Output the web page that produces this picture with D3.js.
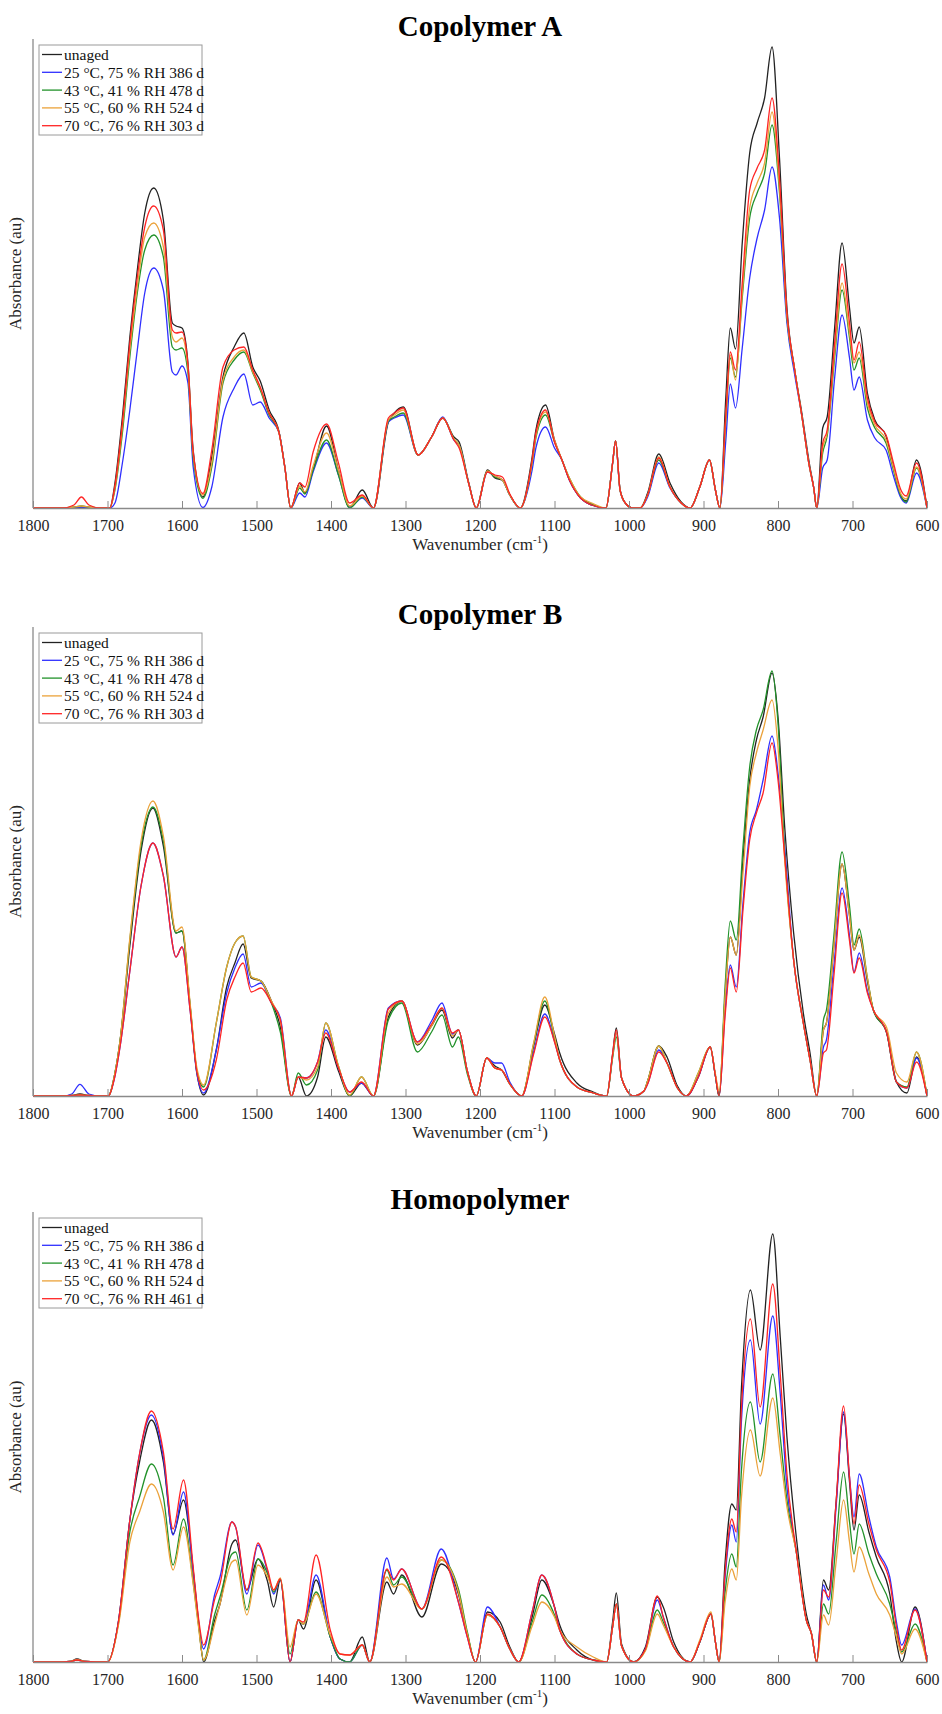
<!DOCTYPE html>
<html>
<head>
<meta charset="utf-8">
<script src="https://cdn.jsdelivr.net/npm/d3@7"></script>
<style>
  body { margin: 0; background: #fff; }
  svg { display: block; }
  svg text { font-family: "Liberation Serif", "Times New Roman", Times, serif !important; }
</style>
</head>
<body>
<svg id="fig" width="942" height="1714"></svg>
<script>
// ---- tick labels and legend entries ----
const xTicks = [1800, 1700, 1600, 1500, 1400, 1300, 1200, 1100, 1000, 900, 800, 700, 600];
const panelTitles = ["Copolymer A", "Copolymer B", "Homopolymer"];
const legendCopolymer = ["unaged", "25 °C, 75 % RH 386 d", "43 °C, 41 % RH 478 d", "55 °C, 60 % RH 524 d", "70 °C, 76 % RH 303 d"];
const legendHomopolymer = ["unaged", "25 °C, 75 % RH 386 d", "43 °C, 41 % RH 478 d", "55 °C, 60 % RH 524 d", "70 °C, 76 % RH 461 d"];

// ---- Copolymer A spectra (absorbance, au) ----
const wavenumberA = [1800,1760,1745,1735,1725,1710,1697,1690,1680,1670,1660,1650,1638,1625,1613,1608,1600,1592,1585,1572,1560,1545,1530,1517,1505,1495,1483,1470,1462,1454,1442,1435,1424,1406,1390,1375,1358,1343,1323,1315,1303,1283,1265,1250,1235,1228,1215,1205,1190,1180,1170,1160,1146,1130,1125,1112,1100,1090,1080,1065,1050,1031,1022,1018,1012,1005,995,985,975,960,945,930,918,905,892,884,878,870,864,857,848,838,828,818,808,798,788,778,768,758,752,748,740,734,724,714,704,698,691,680,670,655,645,635,628,614,600];
const unagedA = [0,0,0,1,0,0,0,25,91,171,238,295,320,288,185,182,180,145,58,11,51,131,161,175,141,127,98,77,41,0,25,15,38,82,38,0.5,18,0,86,95,101,53,71,90,71,66,25,0,38,30,28,13,0,51,78,103,68,48,28,10,3,0,45,67,18,5,0,0,15,54,25,6,0,21,48,18,0,111,180,159,265,355,385,410,461,350,200,140,95,45,20,0,80,91,180,265,200,165,181,115,88,72,40,12,7,48,0];
const rh75A  = [0,0,0.5,1,0.5,0,0,5,45,98,158,215,240,218,136,133,142,125,41,0.5,21,91,120,134,103,106,90,76,41,0,15,11,36,65,33,1,10,0,86,90,93,53,71,91,68,63,24,0,36,32,28,13,0,38,60,81,60,48,28,10,3,0,45,67,18,5,0,0,11,45,20,5,0,21,48,18,0,68,124,100,160,230,270,298,341,290,185,135,92,42,20,0,40,48,130,193,150,118,131,88,70,58,32,10,5,35,0];
const rh41A  = [0,0,1,2,1,0,0,18,75,151,215,258,273,251,161,158,160,135,50,9.7,41,125,148,156,135,118,93,76,41,0,20,14,38,68,33,0,11,0,87,91,95,53,71,90,69,63,24,0,37,31,28,13,0,45,70,93,66,48,30,11,4,0,45,67,18,5,0,0,13,48,21,5,0,21,48,18,0,88,150,131,210,290,315,335,383,315,190,140,92,42,20,0,55,72,150,218,170,138,150,100,80,65,38,12,6,40,0];
const rh60A  = [0,0,1,2,1,0,0,20,81,158,221,271,285,261,171,166,170,140,54,13,45,128,151,158,136,120,95,76,41,0,22,16,42,75,38,2,12,0,88,93,98,53,71,90,69,63,24,0,37,32,28,13,0,46,72,96,68,48,30,11,5,0,45,67,18,5,0,0,13,51,21,5,0,21,48,18,0,91,153,128,215,300,325,345,396,320,192,140,92,42,20,0,60,75,155,225,175,145,156,105,83,68,40,14,9,41,0];
const rh76A  = [0,0,3,11,3,0,0,22,85,165,231,281,302,278,178,175,176,143,56,14.5,58,141,158,161,138,121,95,76,41,0,25,21,56,84,45,5,13,0,90,95,100,53,71,90,68,60,24,0,36,33,31,14,0,48,75,98,66,48,28,10,3,0,45,67,18,5,0,0,13,50,21,5,0,21,48,18,0,95,156,138,225,318,340,358,410,330,195,140,92,42,20,0,65,78,165,244,185,148,166,110,86,73,45,18,12,45,0];

// ---- Copolymer B spectra ----
const wavenumberB = [1800,1760,1748,1737,1725,1710,1699,1690,1683,1670,1655,1639,1625,1608,1600,1589,1580,1571,1554,1540,1529,1518,1507,1494,1480,1468,1453,1444,1433,1418,1407,1390,1375,1359,1343,1323,1305,1284,1265,1251,1237,1229,1217,1205,1191,1180,1171,1160,1144,1128,1113,1100,1093,1070,1048,1030,1022,1017,1010,994,980,975,960,949,935,923,907,891,884,879,871,864,856,847,838,829,820,808,800,791,779,766,757,748,739,735,725,714,704,698,691,680,672,654,641,627,614,600];
const unagedB = [0,0,0.5,2,0.5,0,0,23,56,150,245,288,250,163,165,89,23,1,46,109,133,152,118,115,95,69,0,19,0,19,59,25,0,13,0,79,95,51,70,86,58,66,25,0,38,30,26,12,0,50,91,62,43,13,4,0,42,68,18,0,5,15,50,39,10,0,19,49,20,0,100,159,141,236,316,356,379,423,379,269,163,83,43,0,66,73,150,232,180,146,159,115,86,63,14,3,39,0];
const rh75B  = [0,0,2,11.7,2,0,0,20,50,125,210,253,220,139,149,85,22,3,46,103,128,142,109,113,93,78,0,19,18,34,66,28,4,13,0,88,95,54,75,93,62,66,25,0,38,33,33,14,0,44,82,55,36,9,3,0,40,63,18,0,5,12,46,33,8,0,19,49,20,0,85,131,109,193,263,286,316,360,323,249,136,73,36,0,49,56,130,208,160,124,143,105,86,63,14,8,38,0];
const rh41B  = [0,0,0.5,1,0.5,0,0,23,56,156,250,289,255,163,165,90,25,9,73,129,153,160,119,115,93,64,0,23,11,26,73,30,0,19,0,76,93,44,64,81,49,59,22,0,38,28,26,12,0,52,95,58,36,9,3,0,38,59,18,0,5,15,50,33,8,0,23,49,20,0,110,175,156,249,329,366,386,425,373,243,136,73,36,0,76,86,160,244,190,151,167,118,86,63,14,9,44,0];
const rh60B  = [0,0,0.5,1,0.5,0,0,23,56,158,255,295,260,165,169,92,28,11,73,129,153,160,119,115,95,75,0,19,16,29,73,30,1,19,0,83,95,52,70,88,60,66,25,0,38,28,26,12,0,53,99,60,36,9,3,0,40,63,18,0,5,15,50,33,8,0,23,49,22,5,100,159,141,223,309,343,366,396,349,236,136,73,36,0,66,73,150,232,180,146,161,118,86,68,23,14,44,0];
const rh76B  = [0,0,0.5,1,0.5,0,0,20,50,125,210,253,220,139,149,85,24,6,36,96,119,133,104,108,93,76,0,19,18,34,63,28,4,14,0,87,95,54,72,88,63,66,25,0,38,28,26,12,0,42,79,54,36,9,3,0,42,66,18,0,5,12,44,33,8,0,19,49,20,0,80,128,104,186,256,283,303,353,316,239,136,73,36,0,43,46,120,203,155,123,138,103,86,63,14,8,34,0];

// ---- Homopolymer spectra ----
const wavenumberH = [1800,1760,1750,1741,1730,1715,1700,1685,1670,1657,1641,1625,1612,1598,1585,1578,1571,1556,1549,1533,1528,1513,1498,1485,1477,1468,1455,1444,1437,1420,1401,1388,1375,1358,1348,1325,1316,1305,1278,1252,1229,1217,1206,1190,1173,1160,1148,1130,1117,1100,1093,1070,1048,1030,1022,1017,1010,994,978,962,954,940,918,905,890,884,879,871,862,856,849,837,824,807,797,788,775,762,755,748,739,732,722,712,704,698,691,678,668,650,641,634,616,600];
const unagedH = [0,0,0.5,3,0.5,0,0,42,142,200,242,200,128,162,92,42,0,42,58,118,122,72,103,80,55,82,0,42,33,82,25,3,0,25,0,80,68,87,45,98,68,28,0,50,40,15,0,45,82,55,37,12,2,0,40,69,18,0,15,65,55,20,0,20,48,20,0,100,158,152,275,372,312,428,325,225,122,48,28,0,82,72,160,248,180,132,167,130,105,68,20,0,55,0];
const rh75H  = [0,0,0.5,2,0.5,0,0,42,142,208,247,205,127,170,90,40,13,68,85,140,135,68,117,90,68,83,0,42,38,87,25,3,0,17,0,104,83,93,53,113,60,25,0,55,35,13,0,50,87,55,32,8,2,0,35,58,16,0,13,62,45,15,0,20,48,20,0,85,137,120,242,322,238,346,268,175,108,42,28,0,77,62,155,250,185,145,188,145,115,85,40,17,53,0];
const rh41H  = [0,0,0.5,2,0.5,0,0,40,130,165,198,165,97,143,80,38,2,48,65,108,110,52,103,88,70,83,8,42,38,70,25,3,0,17,0,92,77,85,53,102,73,30,0,47,35,13,0,40,67,47,32,8,2,0,35,58,16,0,12,52,40,15,0,20,48,20,0,70,108,95,192,260,200,288,225,162,108,42,28,0,58,48,120,190,140,108,138,108,88,58,30,10,38,0];
const rh60H  = [0,0,0.5,2.3,0.5,0,0,38,120,150,178,150,92,135,78,36,2,38,58,100,102,47,97,85,72,84,15,42,38,68,27,8,7,17,0,85,75,78,53,102,70,28,0,47,35,13,0,36,60,45,32,15,5,0,35,58,16,0,11,48,37,15,0,22,50,20,0,60,93,82,165,232,186,264,208,155,108,42,28,0,47,37,100,162,120,90,115,88,68,47,25,8,33,0];
const rh76H  = [0,0,0.5,2,0.5,0,0,42,142,208,251,210,133,182,95,45,17,63,78,140,135,72,119,92,72,83,0,42,40,107,32,8,7,17,0,93,82,93,53,105,60,25,0,48,35,13,0,50,87,55,32,8,2,0,35,58,16,0,13,66,45,15,0,20,48,20,0,90,143,130,255,343,255,378,288,188,108,42,28,0,72,65,160,256,185,138,177,138,112,80,35,12,52,0];

// ---- figure layout ----
const svg = d3.select("#fig");
const serif = "'Liberation Serif', 'Times New Roman', Times, serif";
const plotLeft = 33, plotRight = 927;
const lineColors = ["#222222", "#2f2fff", "#22922a", "#eba23a", "#ff2424"];

const panels = [
  { title: panelTitles[0], top: 39,   bottom: 508,  yMax: 469, legend: legendCopolymer,
    wn: wavenumberA, series: [unagedA, rh75A, rh41A, rh60A, rh76A] },
  { title: panelTitles[1], top: 627,  bottom: 1096, yMax: 469, legend: legendCopolymer,
    wn: wavenumberB, series: [unagedB, rh75B, rh41B, rh60B, rh76B] },
  { title: panelTitles[2], top: 1212, bottom: 1662, yMax: 450, legend: legendHomopolymer,
    wn: wavenumberH, series: [unagedH, rh75H, rh41H, rh60H, rh76H] }
];

panels.forEach(p => {
  const g = svg.append("g").style("font-family", serif);
  const x = d3.scaleLinear().domain([1800, 600]).range([plotLeft, plotRight]);
  const y = d3.scaleLinear().domain([0, p.yMax]).range([p.bottom, p.top]);

  // title
  g.append("text")
    .attr("x", (plotLeft + plotRight) / 2)
    .attr("y", p.top - 3)
    .attr("text-anchor", "middle")
    .attr("font-size", 29)
    .attr("font-weight", "bold")
    .attr("fill", "#000")
    .text(p.title);

  // spectra
  const line = d3.line()
    .x(d => x(d[0]))
    .y(d => y(d[1]))
    .curve(d3.curveMonotoneX);
  p.series.forEach((vals, i) => {
    const pts = p.wn.map((w, k) => [w, vals[k]]);
    g.append("path")
      .datum(pts)
      .attr("d", line)
      .attr("fill", "none")
      .attr("stroke", lineColors[i])
      .attr("stroke-width", 1.3)
      .attr("stroke-linejoin", "round");
  });

  // x axis with inward ticks
  const xAxis = d3.axisBottom(x).tickValues(xTicks).tickSize(0).tickPadding(8).tickFormat(d3.format("d"));
  const ax = g.append("g").attr("transform", `translate(0,${p.bottom})`).call(xAxis);
  ax.attr("font-family", null);
  ax.select(".domain").attr("stroke", "#8a8a8a").attr("stroke-width", 1.3);
  ax.selectAll(".tick line").remove();
  ax.selectAll(".tick").append("line")
    .attr("y1", 0).attr("y2", -7)
    .attr("stroke", "#8a8a8a").attr("stroke-width", 1);
  ax.selectAll(".tick text")
    .style("font-family", serif)
    .attr("font-size", 16)
    .attr("fill", "#262626")
    .attr("dy", "0.95em");

  // y axis line (no ticks)
  g.append("line")
    .attr("x1", plotLeft).attr("x2", plotLeft)
    .attr("y1", p.top).attr("y2", p.bottom)
    .attr("stroke", "#8a8a8a").attr("stroke-width", 1.3);

  // axis labels
  const xl = g.append("text")
    .attr("x", (plotLeft + plotRight) / 2)
    .attr("y", p.bottom + 42)
    .attr("text-anchor", "middle")
    .attr("font-size", 17)
    .attr("fill", "#262626");
  xl.append("tspan").text("Wavenumber (cm");
  xl.append("tspan").attr("font-size", 11).attr("dy", -7).text("-1");
  xl.append("tspan").attr("dy", 7).text(")");

  g.append("text")
    .attr("transform", `translate(${plotLeft - 12},${(p.top + p.bottom) / 2}) rotate(-90)`)
    .attr("text-anchor", "middle")
    .attr("font-size", 17)
    .attr("fill", "#262626")
    .text("Absorbance (au)");

  // legend
  const lg = g.append("g").attr("transform", `translate(${plotLeft + 6},${p.top + 6})`);
  lg.append("rect")
    .attr("width", 163).attr("height", 90)
    .attr("fill", "#fff").attr("stroke", "#9a9a9a").attr("stroke-width", 1);
  p.legend.forEach((name, i) => {
    const cy = 9.5 + i * 17.8;
    lg.append("line")
      .attr("x1", 3).attr("x2", 23)
      .attr("y1", cy).attr("y2", cy)
      .attr("stroke", lineColors[i]).attr("stroke-width", 1.3);
    lg.append("text")
      .attr("x", 25).attr("y", cy)
      .attr("dy", "0.35em")
      .attr("font-size", 15.5)
      .attr("fill", "#111")
      .text(name);
  });
});
</script>
</body>
</html>
